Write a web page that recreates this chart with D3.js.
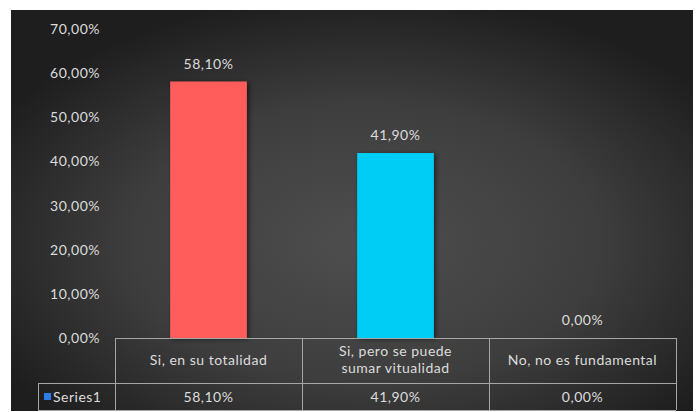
<!DOCTYPE html>
<html>
<head>
<meta charset="utf-8">
<script src="https://cdn.jsdelivr.net/npm/d3@7"></script>
<style>
  html, body { margin: 0; padding: 0; background: #ffffff; }
  svg { display: block; }
  text { font-family: Lato, "Open Sans", sans-serif; fill: #dcdcdc; letter-spacing: 0.5px; }
</style>
</head>
<body>
<script>
// Survey answers and shares (percent)
const categories = ["Si, en su totalidad", "Si, pero se puede\nsumar vitualidad", "No, no es fundamental"];
const values = [58.1, 41.9, 0.0];
const barColors = ["#ff5b5b", "#00cdf5", "#4f81bd"];
const yTicks = [0, 10, 20, 30, 40, 50, 60, 70];
const seriesName = "Series1";

const W = 696, H = 412;
const FS = 14;
const fmt = v => d3.format(".2f")(v).replace(".", ",") + "%";

const svg = d3.select("body").append("svg").attr("width", W).attr("height", H);
const defs = svg.append("defs");

const grad = defs.append("radialGradient").attr("id", "bg")
  .attr("cx", "52%").attr("cy", "58%").attr("r", "62%");
grad.append("stop").attr("offset", "0%").attr("stop-color", "#4e4e4e");
grad.append("stop").attr("offset", "55%").attr("stop-color", "#3e3e3e");
grad.append("stop").attr("offset", "100%").attr("stop-color", "#1e1e1e");

const shadow = defs.append("filter").attr("id", "shadow")
  .attr("x", "-20%").attr("y", "-20%").attr("width", "150%").attr("height", "150%");
shadow.append("feDropShadow").attr("dx", 2).attr("dy", 1).attr("stdDeviation", 2.5)
  .attr("flood-color", "#000").attr("flood-opacity", 0.55);

// chart area
const area = { left: 11, top: 10, right: 693, bottom: 411 };
svg.append("rect").attr("x", area.left).attr("y", area.top)
  .attr("width", area.right - area.left).attr("height", area.bottom - area.top)
  .attr("fill", "url(#bg)");

const plot = { left: 115, right: 676, top: 29, bottom: 338 };

const x = d3.scaleBand().domain(categories).range([plot.left, plot.right])
  .paddingInner(0).paddingOuter(0);
const y = d3.scaleLinear().domain([0, 70]).range([plot.bottom, plot.top]);

// y axis labels
const yAxis = d3.axisLeft(y).tickValues(yTicks).tickFormat(fmt).tickSize(0).tickPadding(0);
const gy = svg.append("g").attr("transform", `translate(${100},0)`).call(yAxis);
gy.select(".domain").remove();
gy.selectAll("text").attr("font-size", FS).attr("fill", "#dcdcdc")
  .attr("font-family", "Lato, 'Open Sans', sans-serif");

// bars
const barW = x.bandwidth() * 0.41;
svg.append("g").selectAll("rect").data(categories).join("rect")
  .attr("x", d => x(d) + (x.bandwidth() - barW) / 2)
  .attr("y", (d, i) => y(values[i]))
  .attr("width", barW)
  .attr("height", (d, i) => y(0) - y(values[i]))
  .attr("fill", (d, i) => barColors[i])
  .attr("filter", "url(#shadow)");

// value labels
svg.append("g").selectAll("text").data(categories).join("text")
  .attr("x", d => x(d) + x.bandwidth() / 2)
  .attr("y", (d, i) => y(values[i]) - 13)
  .attr("text-anchor", "middle")
  .attr("font-size", FS)
  .text((d, i) => fmt(values[i]));

// data table under the axis
const lineColor = "#a6a6a6";
const rowTop = plot.bottom, rowMid = 383, rowBot = 410, legendLeft = 38;
const tbl = svg.append("g").attr("stroke", lineColor).attr("stroke-width", 1).attr("fill", "none");
tbl.append("line").attr("x1", plot.left).attr("x2", plot.right).attr("y1", rowTop + 0.5).attr("y2", rowTop + 0.5);
tbl.append("line").attr("x1", legendLeft).attr("x2", plot.right).attr("y1", rowMid + 0.5).attr("y2", rowMid + 0.5);
tbl.append("line").attr("x1", legendLeft).attr("x2", plot.right).attr("y1", rowBot + 0.5).attr("y2", rowBot + 0.5);
tbl.append("line").attr("x1", legendLeft + 0.5).attr("x2", legendLeft + 0.5).attr("y1", rowMid).attr("y2", rowBot);
categories.concat([null]).forEach((d, i) => {
  const xx = d === null ? plot.right : x(d);
  tbl.append("line").attr("x1", xx + 0.5).attr("x2", xx + 0.5).attr("y1", rowTop).attr("y2", rowBot);
});

// category row
const catG = svg.append("g");
categories.forEach(c => {
  const lines = c.split("\n");
  const cy = (rowTop + rowMid) / 2;
  const t = catG.append("text").attr("text-anchor", "middle").attr("font-size", FS);
  lines.forEach((ln, j) => {
    t.append("tspan").attr("x", x(c) + x.bandwidth() / 2)
      .attr("y", cy + (j - (lines.length - 1) / 2) * 17 + 4)
      .text(ln);
  });
});

// values row
svg.append("g").selectAll("text").data(categories).join("text")
  .attr("x", d => x(d) + x.bandwidth() / 2)
  .attr("y", (rowMid + rowBot) / 2 + 5)
  .attr("text-anchor", "middle").attr("font-size", FS)
  .text((d, i) => fmt(values[i]));

// legend key
svg.append("rect").attr("x", 44).attr("y", 393).attr("width", 7).attr("height", 7)
  .attr("fill", "#2f7be8");
svg.append("text").attr("x", 53).attr("y", (rowMid + rowBot) / 2 + 5)
  .attr("font-size", FS).text(seriesName);
</script>
</body>
</html>
